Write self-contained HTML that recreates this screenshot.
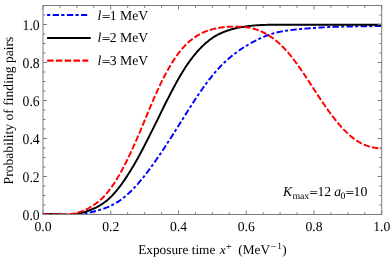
<!DOCTYPE html>
<html><head><meta charset="utf-8"><title>plot</title>
<style>
html,body{margin:0;padding:0;background:#fff;}
svg{display:block;}
svg{font-family:"Liberation Serif",serif;font-size:13.7px;}
text{fill:#000;text-rendering:geometricPrecision;}
.i{font-style:italic;}
.s{font-size:9.8px;}
.t{filter:grayscale(1);}
.e{font-size:11.5px;stroke:#000;stroke-width:0.22px;}
</style></head><body>
<svg width="390" height="258" viewBox="0 0 390 258">
<rect x="0" y="0" width="390" height="258" fill="#fff"/>
<clipPath id="c"><rect x="43.0" y="5.5" width="338.7" height="209.0"/></clipPath>
<g fill="none" stroke-width="1.95" stroke-linejoin="round" clip-path="url(#c)">
<path d="M43.0 214.51 L44.0 214.41 L45.0 214.33 L46.0 214.26 L47.0 214.21 L48.0 214.17 L49.0 214.14 L50.0 214.13 L51.0 214.12 L52.0 214.13 L53.0 214.14 L54.0 214.16 L55.0 214.19 L56.0 214.22 L57.0 214.25 L58.0 214.30 L59.0 214.34 L60.0 214.38 L61.0 214.43 L62.0 214.47 L63.0 214.52 L64.0 214.56 L65.0 214.60 L66.0 214.60 L67.0 214.60 L68.0 214.60 L69.0 214.60 L70.0 214.60 L71.0 214.60 L72.0 214.60 L73.0 214.60 L74.0 214.60 L75.0 214.60 L76.0 214.54 L76.9 214.46 L77.9 214.38 L78.9 214.28 L79.9 214.17 L80.9 214.04 L81.9 213.91 L82.9 213.76 L83.9 213.60 L84.9 213.43 L85.9 213.25 L86.9 213.06 L87.9 212.87 L88.9 212.66 L89.9 212.44 L90.9 212.22 L91.9 211.99 L92.9 211.75 L93.9 211.50 L94.9 211.25 L95.9 210.99 L96.9 210.72 L97.9 210.44 L98.9 210.16 L99.9 209.86 L100.9 209.55 L101.9 209.24 L102.9 208.91 L103.9 208.56 L104.9 208.20 L105.9 207.83 L106.9 207.44 L107.9 207.03 L108.9 206.61 L109.9 206.16 L110.9 205.70 L111.9 205.22 L112.9 204.71 L113.9 204.18 L114.9 203.63 L115.9 203.06 L116.9 202.46 L117.9 201.83 L118.9 201.18 L119.9 200.50 L120.9 199.79 L121.9 199.05 L122.9 198.29 L123.9 197.49 L124.9 196.67 L125.9 195.83 L126.9 194.96 L127.9 194.06 L128.9 193.14 L129.9 192.19 L130.9 191.22 L131.9 190.23 L132.9 189.21 L133.9 188.17 L134.9 187.11 L135.9 186.02 L136.9 184.92 L137.9 183.79 L138.9 182.65 L139.9 181.48 L140.9 180.29 L141.9 179.09 L142.9 177.87 L143.9 176.62 L144.8 175.36 L145.8 174.09 L146.8 172.79 L147.8 171.48 L148.8 170.16 L149.8 168.82 L150.8 167.46 L151.8 166.09 L152.8 164.71 L153.8 163.31 L154.8 161.90 L155.8 160.48 L156.8 159.04 L157.8 157.59 L158.8 156.14 L159.8 154.67 L160.8 153.19 L161.8 151.70 L162.8 150.20 L163.8 148.69 L164.8 147.17 L165.8 145.65 L166.8 144.11 L167.8 142.57 L168.8 141.03 L169.8 139.47 L170.8 137.91 L171.8 136.35 L172.8 134.78 L173.8 133.21 L174.8 131.63 L175.8 130.05 L176.8 128.46 L177.8 126.87 L178.8 125.28 L179.8 123.69 L180.8 122.10 L181.8 120.50 L182.8 118.91 L183.8 117.32 L184.8 115.72 L185.8 114.14 L186.8 112.55 L187.8 110.97 L188.8 109.39 L189.8 107.82 L190.8 106.26 L191.8 104.70 L192.8 103.15 L193.8 101.62 L194.8 100.09 L195.8 98.57 L196.8 97.06 L197.8 95.57 L198.8 94.08 L199.8 92.61 L200.8 91.16 L201.8 89.72 L202.8 88.30 L203.8 86.90 L204.8 85.51 L205.8 84.14 L206.8 82.79 L207.8 81.46 L208.8 80.16 L209.8 78.87 L210.8 77.61 L211.8 76.37 L212.7 75.15 L213.7 73.96 L214.7 72.78 L215.7 71.63 L216.7 70.50 L217.7 69.39 L218.7 68.30 L219.7 67.23 L220.7 66.18 L221.7 65.15 L222.7 64.14 L223.7 63.15 L224.7 62.18 L225.7 61.25 L226.7 60.35 L227.7 59.46 L228.7 58.59 L229.7 57.74 L230.7 56.90 L231.7 56.08 L232.7 55.28 L233.7 54.49 L234.7 53.72 L235.7 52.96 L236.7 52.22 L237.7 51.49 L238.7 50.77 L239.7 50.07 L240.7 49.39 L241.7 48.72 L242.7 48.06 L243.7 47.43 L244.7 46.80 L245.7 46.18 L246.7 45.58 L247.7 44.99 L248.7 44.40 L249.7 43.82 L250.7 43.25 L251.7 42.69 L252.7 42.13 L253.7 41.59 L254.7 41.05 L255.7 40.52 L256.7 40.01 L257.7 39.51 L258.7 39.02 L259.7 38.55 L260.7 38.09 L261.7 37.64 L262.7 37.21 L263.7 36.79 L264.7 36.38 L265.7 35.99 L266.7 35.61 L267.7 35.24 L268.7 34.88 L269.7 34.53 L270.7 34.20 L271.7 33.88 L272.7 33.57 L273.7 33.27 L274.7 32.98 L275.7 32.73 L276.7 32.49 L277.7 32.26 L278.7 32.05 L279.7 31.84 L280.6 31.65 L281.6 31.46 L282.6 31.28 L283.6 31.11 L284.6 30.94 L285.6 30.79 L286.6 30.64 L287.6 30.49 L288.6 30.36 L289.6 30.22 L290.6 30.10 L291.6 29.98 L292.6 29.86 L293.6 29.75 L294.6 29.64 L295.6 29.54 L296.6 29.43 L297.6 29.33 L298.6 29.24 L299.6 29.14 L300.6 29.05 L301.6 28.96 L302.6 28.87 L303.6 28.78 L304.6 28.70 L305.6 28.61 L306.6 28.53 L307.6 28.44 L308.6 28.36 L309.6 28.28 L310.6 28.21 L311.6 28.13 L312.6 28.06 L313.6 27.98 L314.6 27.91 L315.6 27.84 L316.6 27.78 L317.6 27.71 L318.6 27.65 L319.6 27.58 L320.6 27.52 L321.6 27.46 L322.6 27.40 L323.6 27.35 L324.6 27.29 L325.6 27.24 L326.6 27.19 L327.6 27.14 L328.6 27.09 L329.6 27.05 L330.6 27.00 L331.6 26.96 L332.6 26.92 L333.6 26.88 L334.6 26.84 L335.6 26.81 L336.6 26.77 L337.6 26.74 L338.6 26.71 L339.6 26.68 L340.6 26.65 L341.6 26.63 L342.6 26.61 L343.6 26.58 L344.6 26.56 L345.6 26.55 L346.6 26.53 L347.6 26.51 L348.5 26.50 L349.5 26.48 L350.5 26.47 L351.5 26.45 L352.5 26.44 L353.5 26.43 L354.5 26.42 L355.5 26.41 L356.5 26.40 L357.5 26.39 L358.5 26.37 L359.5 26.36 L360.5 26.35 L361.5 26.34 L362.5 26.33 L363.5 26.32 L364.5 26.30 L365.5 26.29 L366.5 26.28 L367.5 26.26 L368.5 26.24 L369.5 26.23 L370.5 26.21 L371.5 26.19 L372.5 26.17 L373.5 26.14 L374.5 26.12 L375.5 26.09 L376.5 26.06 L377.5 26.03 L378.5 26.00 L379.5 25.96 L380.5 25.93 L381.5 25.89" stroke="#0000ff" stroke-dasharray="3 2.45 6.3 2.32" stroke-dashoffset="0.7"/>
<path d="M43.0 214.46 L44.0 214.32 L45.0 214.21 L46.0 214.12 L47.0 214.06 L48.0 214.01 L49.0 213.98 L50.0 213.97 L51.0 213.98 L52.0 214.00 L53.0 214.03 L54.0 214.07 L55.0 214.12 L56.0 214.17 L57.0 214.23 L58.0 214.29 L59.0 214.36 L60.0 214.42 L61.0 214.48 L62.0 214.54 L63.0 214.59 L64.0 214.60 L65.0 214.60 L66.0 214.60 L67.0 214.60 L68.0 214.60 L69.0 214.60 L70.0 214.60 L71.0 214.59 L72.0 214.51 L73.0 214.42 L74.0 214.31 L75.0 214.17 L76.0 214.02 L76.9 213.86 L77.9 213.67 L78.9 213.47 L79.9 213.25 L80.9 213.01 L81.9 212.76 L82.9 212.49 L83.9 212.20 L84.9 211.90 L85.9 211.58 L86.9 211.25 L87.9 210.90 L88.9 210.54 L89.9 210.16 L90.9 209.77 L91.9 209.36 L92.9 208.94 L93.9 208.50 L94.9 208.04 L95.9 207.56 L96.9 207.05 L97.9 206.52 L98.9 205.97 L99.9 205.39 L100.9 204.78 L101.9 204.15 L102.9 203.48 L103.9 202.78 L104.9 202.04 L105.9 201.27 L106.9 200.47 L107.9 199.63 L108.9 198.74 L109.9 197.82 L110.9 196.86 L111.9 195.85 L112.9 194.80 L113.9 193.72 L114.9 192.59 L115.9 191.43 L116.9 190.23 L117.9 188.99 L118.9 187.72 L119.9 186.41 L120.9 185.07 L121.9 183.70 L122.9 182.29 L123.9 180.86 L124.9 179.39 L125.9 177.89 L126.9 176.37 L127.9 174.81 L128.9 173.23 L129.9 171.62 L130.9 169.99 L131.9 168.33 L132.9 166.65 L133.9 164.94 L134.9 163.22 L135.9 161.47 L136.9 159.70 L137.9 157.91 L138.9 156.10 L139.9 154.27 L140.9 152.43 L141.9 150.57 L142.9 148.69 L143.9 146.80 L144.8 144.89 L145.8 142.97 L146.8 141.03 L147.8 139.08 L148.8 137.12 L149.8 135.15 L150.8 133.17 L151.8 131.17 L152.8 129.17 L153.8 127.16 L154.8 125.15 L155.8 123.12 L156.8 121.09 L157.8 119.06 L158.8 117.02 L159.8 114.97 L160.8 112.92 L161.8 110.87 L162.8 108.82 L163.8 106.78 L164.8 104.73 L165.8 102.75 L166.8 100.78 L167.8 98.82 L168.8 96.87 L169.8 94.93 L170.8 93.00 L171.8 91.09 L172.8 89.19 L173.8 87.31 L174.8 85.45 L175.8 83.62 L176.8 81.80 L177.8 80.01 L178.8 78.24 L179.8 76.51 L180.8 74.80 L181.8 73.13 L182.8 71.50 L183.8 69.90 L184.8 68.34 L185.8 66.81 L186.8 65.32 L187.8 63.86 L188.8 62.43 L189.8 61.02 L190.8 59.65 L191.8 58.31 L192.8 57.01 L193.8 55.74 L194.8 54.51 L195.8 53.31 L196.8 52.14 L197.8 51.01 L198.8 49.92 L199.8 48.85 L200.8 47.82 L201.8 46.81 L202.8 45.83 L203.8 44.88 L204.8 43.96 L205.8 43.07 L206.8 42.21 L207.8 41.38 L208.8 40.58 L209.8 39.82 L210.8 39.09 L211.8 38.39 L212.7 37.71 L213.7 37.07 L214.7 36.45 L215.7 35.86 L216.7 35.30 L217.7 34.76 L218.7 34.24 L219.7 33.75 L220.7 33.28 L221.7 32.83 L222.7 32.40 L223.7 31.99 L224.7 31.60 L225.7 31.23 L226.7 30.88 L227.7 30.54 L228.7 30.21 L229.7 29.90 L230.7 29.60 L231.7 29.31 L232.7 29.04 L233.7 28.78 L234.7 28.53 L235.7 28.29 L236.7 28.06 L237.7 27.85 L238.7 27.64 L239.7 27.45 L240.7 27.26 L241.7 27.08 L242.7 26.92 L243.7 26.76 L244.7 26.61 L245.7 26.46 L246.7 26.32 L247.7 26.19 L248.7 26.07 L249.7 25.96 L250.7 25.85 L251.7 25.74 L252.7 25.64 L253.7 25.55 L254.7 25.47 L255.7 25.39 L256.7 25.31 L257.7 25.24 L258.7 25.17 L259.7 25.11 L260.7 25.06 L261.7 25.02 L262.7 24.98 L263.7 24.94 L264.7 24.91 L265.7 24.87 L266.7 24.85 L267.7 24.82 L268.7 24.80 L269.7 24.77 L270.7 24.75 L271.7 24.74 L272.7 24.72 L273.7 24.71 L274.7 24.70 L275.7 24.69 L276.7 24.68 L277.7 24.67 L278.7 24.67 L279.7 24.67 L280.6 24.66 L281.6 24.66 L282.6 24.66 L283.6 24.66 L284.6 24.67 L285.6 24.67 L286.6 24.68 L287.6 24.68 L288.6 24.69 L289.6 24.69 L290.6 24.70 L291.6 24.71 L292.6 24.71 L293.6 24.72 L294.6 24.73 L295.6 24.74 L296.6 24.74 L297.6 24.75 L298.6 24.76 L299.6 24.77 L300.6 24.77 L301.6 24.78 L302.6 24.78 L303.6 24.79 L304.6 24.80 L305.6 24.80 L306.6 24.80 L307.6 24.81 L308.6 24.81 L309.6 24.81 L310.6 24.82 L311.6 24.82 L312.6 24.82 L313.6 24.82 L314.6 24.82 L315.6 24.83 L316.6 24.83 L317.6 24.83 L318.6 24.83 L319.6 24.83 L320.6 24.83 L321.6 24.83 L322.6 24.83 L323.6 24.83 L324.6 24.83 L325.6 24.82 L326.6 24.82 L327.6 24.82 L328.6 24.82 L329.6 24.82 L330.6 24.82 L331.6 24.82 L332.6 24.81 L333.6 24.81 L334.6 24.81 L335.6 24.81 L336.6 24.80 L337.6 24.80 L338.6 24.80 L339.6 24.80 L340.6 24.79 L341.6 24.79 L342.6 24.79 L343.6 24.79 L344.6 24.78 L345.6 24.78 L346.6 24.78 L347.6 24.78 L348.5 24.78 L349.5 24.77 L350.5 24.77 L351.5 24.77 L352.5 24.77 L353.5 24.77 L354.5 24.76 L355.5 24.76 L356.5 24.76 L357.5 24.76 L358.5 24.76 L359.5 24.76 L360.5 24.76 L361.5 24.76 L362.5 24.76 L363.5 24.76 L364.5 24.76 L365.5 24.76 L366.5 24.76 L367.5 24.76 L368.5 24.76 L369.5 24.76 L370.5 24.77 L371.5 24.77 L372.5 24.77 L373.5 24.77 L374.5 24.78 L375.5 24.78 L376.5 24.78 L377.5 24.79 L378.5 24.79 L379.5 24.80 L380.5 24.80 L381.5 24.81" stroke="#000"/>
<path d="M43.0 214.47 L44.0 214.38 L45.0 214.31 L46.0 214.26 L47.0 214.22 L48.0 214.20 L49.0 214.19 L50.0 214.18 L51.0 214.19 L52.0 214.21 L53.0 214.23 L54.0 214.25 L55.0 214.28 L56.0 214.32 L57.0 214.35 L58.0 214.38 L59.0 214.40 L60.0 214.43 L61.0 214.44 L62.0 214.45 L63.0 214.45 L64.0 214.45 L65.0 214.43 L66.0 214.39 L67.0 214.34 L68.0 214.28 L69.0 214.20 L70.0 214.10 L71.0 213.97 L72.0 213.83 L73.0 213.67 L74.0 213.48 L75.0 213.28 L76.0 213.05 L76.9 212.80 L77.9 212.53 L78.9 212.23 L79.9 211.92 L80.9 211.58 L81.9 211.21 L82.9 210.83 L83.9 210.42 L84.9 209.98 L85.9 209.53 L86.9 209.04 L87.9 208.54 L88.9 208.01 L89.9 207.45 L90.9 206.87 L91.9 206.26 L92.9 205.63 L93.9 204.96 L94.9 204.27 L95.9 203.55 L96.9 202.79 L97.9 202.00 L98.9 201.17 L99.9 200.31 L100.9 199.41 L101.9 198.47 L102.9 197.49 L103.9 196.47 L104.9 195.40 L105.9 194.30 L106.9 193.15 L107.9 191.95 L108.9 190.70 L109.9 189.41 L110.9 188.06 L111.9 186.67 L112.9 185.23 L113.9 183.74 L114.9 182.21 L115.9 180.63 L116.9 179.00 L117.9 177.33 L118.9 175.62 L119.9 173.87 L120.9 172.08 L121.9 170.25 L122.9 168.38 L123.9 166.48 L124.9 164.54 L125.9 162.56 L126.9 160.55 L127.9 158.50 L128.9 156.43 L129.9 154.32 L130.9 152.18 L131.9 150.02 L132.9 147.82 L133.9 145.60 L134.9 143.35 L135.9 141.08 L136.9 138.79 L137.9 136.47 L138.9 134.14 L139.9 131.79 L140.9 129.43 L141.9 127.06 L142.9 124.68 L143.9 122.30 L144.8 119.91 L145.8 117.52 L146.8 115.14 L147.8 112.76 L148.8 110.39 L149.8 108.03 L150.8 105.68 L151.8 103.34 L152.8 101.02 L153.8 98.73 L154.8 96.45 L155.8 94.20 L156.8 91.98 L157.8 89.79 L158.8 87.63 L159.8 85.50 L160.8 83.43 L161.8 81.40 L162.8 79.40 L163.8 77.45 L164.8 75.53 L165.8 73.66 L166.8 71.82 L167.8 70.02 L168.8 68.27 L169.8 66.55 L170.8 64.87 L171.8 63.24 L172.8 61.64 L173.8 60.09 L174.8 58.58 L175.8 57.11 L176.8 55.68 L177.8 54.29 L178.8 52.94 L179.8 51.64 L180.8 50.38 L181.8 49.17 L182.8 48.00 L183.8 46.87 L184.8 45.79 L185.8 44.76 L186.8 43.77 L187.8 42.82 L188.8 41.91 L189.8 41.04 L190.8 40.21 L191.8 39.41 L192.8 38.65 L193.8 37.92 L194.8 37.23 L195.8 36.56 L196.8 35.93 L197.8 35.32 L198.8 34.74 L199.8 34.18 L200.8 33.65 L201.8 33.15 L202.8 32.67 L203.8 32.22 L204.8 31.80 L205.8 31.39 L206.8 31.01 L207.8 30.66 L208.8 30.32 L209.8 30.00 L210.8 29.70 L211.8 29.42 L212.7 29.16 L213.7 28.92 L214.7 28.69 L215.7 28.47 L216.7 28.27 L217.7 28.08 L218.7 27.90 L219.7 27.74 L220.7 27.58 L221.7 27.44 L222.7 27.31 L223.7 27.19 L224.7 27.08 L225.7 26.98 L226.7 26.90 L227.7 26.82 L228.7 26.76 L229.7 26.71 L230.7 26.67 L231.7 26.64 L232.7 26.62 L233.7 26.61 L234.7 26.61 L235.7 26.61 L236.7 26.62 L237.7 26.64 L238.7 26.67 L239.7 26.70 L240.7 26.75 L241.7 26.81 L242.7 26.88 L243.7 26.96 L244.7 27.06 L245.7 27.16 L246.7 27.29 L247.7 27.42 L248.7 27.57 L249.7 27.74 L250.7 27.95 L251.7 28.19 L252.7 28.44 L253.7 28.71 L254.7 29.01 L255.7 29.32 L256.7 29.65 L257.7 30.01 L258.7 30.38 L259.7 30.78 L260.7 31.20 L261.7 31.64 L262.7 32.11 L263.7 32.60 L264.7 33.12 L265.7 33.66 L266.7 34.22 L267.7 34.81 L268.7 35.42 L269.7 36.06 L270.7 36.72 L271.7 37.41 L272.7 38.12 L273.7 38.86 L274.7 39.63 L275.7 40.42 L276.7 41.24 L277.7 42.08 L278.7 42.95 L279.7 43.85 L280.6 44.78 L281.6 45.73 L282.6 46.72 L283.6 47.73 L284.6 48.76 L285.6 49.83 L286.6 50.93 L287.6 52.05 L288.6 53.20 L289.6 54.39 L290.6 55.60 L291.6 56.84 L292.6 58.11 L293.6 59.40 L294.6 60.72 L295.6 62.06 L296.6 63.43 L297.6 64.81 L298.6 66.22 L299.6 67.64 L300.6 69.08 L301.6 70.54 L302.6 72.01 L303.6 73.49 L304.6 74.98 L305.6 76.49 L306.6 78.00 L307.6 79.52 L308.6 81.05 L309.6 82.58 L310.6 84.12 L311.6 85.65 L312.6 87.19 L313.6 88.73 L314.6 90.27 L315.6 91.80 L316.6 93.33 L317.6 94.85 L318.6 96.37 L319.6 97.88 L320.6 99.38 L321.6 100.86 L322.6 102.34 L323.6 103.80 L324.6 105.26 L325.6 106.69 L326.6 108.12 L327.6 109.52 L328.6 110.92 L329.6 112.29 L330.6 113.65 L331.6 114.99 L332.6 116.31 L333.6 117.61 L334.6 118.89 L335.6 120.15 L336.6 121.39 L337.6 122.61 L338.6 123.80 L339.6 124.97 L340.6 126.11 L341.6 127.23 L342.6 128.32 L343.6 129.39 L344.6 130.42 L345.6 131.43 L346.6 132.41 L347.6 133.36 L348.5 134.28 L349.5 135.16 L350.5 136.02 L351.5 136.84 L352.5 137.63 L353.5 138.39 L354.5 139.12 L355.5 139.81 L356.5 140.48 L357.5 141.11 L358.5 141.72 L359.5 142.30 L360.5 142.85 L361.5 143.37 L362.5 143.86 L363.5 144.32 L364.5 144.76 L365.5 145.17 L366.5 145.56 L367.5 145.91 L368.5 146.25 L369.5 146.56 L370.5 146.84 L371.5 147.10 L372.5 147.33 L373.5 147.54 L374.5 147.73 L375.5 147.90 L376.5 148.04 L377.5 148.16 L378.5 148.26 L379.5 148.34 L380.5 148.40 L381.5 148.44" stroke="#ff0000" stroke-dasharray="6.4 2.23" stroke-dashoffset="-0.34"/>
</g>
<path d="M43.00 214.5 v-4.0 M43.00 5.5 v4.0 M59.94 214.5 v-2.4 M59.94 5.5 v2.4 M76.87 214.5 v-2.4 M76.87 5.5 v2.4 M93.81 214.5 v-2.4 M93.81 5.5 v2.4 M110.74 214.5 v-4.0 M110.74 5.5 v4.0 M127.67 214.5 v-2.4 M127.67 5.5 v2.4 M144.61 214.5 v-2.4 M144.61 5.5 v2.4 M161.55 214.5 v-2.4 M161.55 5.5 v2.4 M178.48 214.5 v-4.0 M178.48 5.5 v4.0 M195.41 214.5 v-2.4 M195.41 5.5 v2.4 M212.35 214.5 v-2.4 M212.35 5.5 v2.4 M229.28 214.5 v-2.4 M229.28 5.5 v2.4 M246.22 214.5 v-4.0 M246.22 5.5 v4.0 M263.15 214.5 v-2.4 M263.15 5.5 v2.4 M280.09 214.5 v-2.4 M280.09 5.5 v2.4 M297.02 214.5 v-2.4 M297.02 5.5 v2.4 M313.96 214.5 v-4.0 M313.96 5.5 v4.0 M330.90 214.5 v-2.4 M330.90 5.5 v2.4 M347.83 214.5 v-2.4 M347.83 5.5 v2.4 M364.76 214.5 v-2.4 M364.76 5.5 v2.4 M381.70 214.5 v-4.0 M381.70 5.5 v4.0 M43.0 214.50 h4.0 M381.7 214.50 h-4.0 M43.0 205.00 h2.4 M381.7 205.00 h-2.4 M43.0 195.50 h2.4 M381.7 195.50 h-2.4 M43.0 186.00 h2.4 M381.7 186.00 h-2.4 M43.0 176.50 h4.0 M381.7 176.50 h-4.0 M43.0 167.00 h2.4 M381.7 167.00 h-2.4 M43.0 157.50 h2.4 M381.7 157.50 h-2.4 M43.0 148.00 h2.4 M381.7 148.00 h-2.4 M43.0 138.50 h4.0 M381.7 138.50 h-4.0 M43.0 129.00 h2.4 M381.7 129.00 h-2.4 M43.0 119.50 h2.4 M381.7 119.50 h-2.4 M43.0 110.00 h2.4 M381.7 110.00 h-2.4 M43.0 100.50 h4.0 M381.7 100.50 h-4.0 M43.0 91.00 h2.4 M381.7 91.00 h-2.4 M43.0 81.50 h2.4 M381.7 81.50 h-2.4 M43.0 72.00 h2.4 M381.7 72.00 h-2.4 M43.0 62.50 h4.0 M381.7 62.50 h-4.0 M43.0 53.00 h2.4 M381.7 53.00 h-2.4 M43.0 43.50 h2.4 M381.7 43.50 h-2.4 M43.0 34.00 h2.4 M381.7 34.00 h-2.4 M43.0 24.50 h4.0 M381.7 24.50 h-4.0 M43.0 15.00 h2.4 M381.7 15.00 h-2.4" fill="none" stroke="#7c7c7c" stroke-width="1"/>
<rect x="43.0" y="5.5" width="338.7" height="209.0" fill="none" stroke="#7c7c7c" stroke-width="1"/>
<g fill="none" stroke-width="2.05">
<line x1="47.1" y1="15" x2="87.2" y2="15" stroke="#0000ff" stroke-dasharray="3.1 2.5 6.3 2.3"/>
<line x1="47.1" y1="37.9" x2="90.7" y2="37.9" stroke="#000"/>
<line x1="47.1" y1="60.6" x2="88.3" y2="60.6" stroke="#ff0000" stroke-dasharray="6.5 2.3"/>
</g>
<g class="t">
<text x="97.6" y="19.6" class="i">l</text><text class="e" transform="translate(101.9 20.25) rotate(0.04) scale(1.27 1)">=</text><text x="109.8" y="19.6">1 MeV</text>
<text x="97.6" y="42.2" class="i">l</text><text class="e" transform="translate(101.9 42.25) rotate(0.04) scale(1.27 1)">=</text><text x="109.8" y="42.2">2 MeV</text>
<text x="97.6" y="64.9" class="i">l</text><text class="e" transform="translate(101.9 65.25) rotate(0.04) scale(1.27 1)">=</text><text x="109.8" y="64.9">3 MeV</text>
<text x="43.00" y="230.8" text-anchor="middle">0.0</text><text x="110.74" y="230.8" text-anchor="middle">0.2</text><text x="178.48" y="230.8" text-anchor="middle">0.4</text><text x="246.22" y="230.8" text-anchor="middle">0.6</text><text x="313.96" y="230.8" text-anchor="middle">0.8</text><text x="381.70" y="230.8" text-anchor="middle">1.0</text>
<text transform="translate(39.7 219.70) scale(1 1.08)" text-anchor="end">0.0</text><text transform="translate(39.7 181.70) scale(1 1.08)" text-anchor="end">0.2</text><text transform="translate(39.7 143.70) scale(1 1.08)" text-anchor="end">0.4</text><text transform="translate(39.7 105.70) scale(1 1.08)" text-anchor="end">0.6</text><text transform="translate(39.7 67.70) scale(1 1.08)" text-anchor="end">0.8</text><text transform="translate(39.7 29.70) scale(1 1.08)" text-anchor="end">1.0</text>
<g style="font-size:13.3px">
<text x="138.2" y="253.8">Exposure time</text>
<text x="219.7" y="253.8" class="i">x</text>
<text x="226.1" y="250" style="font-size:10.2px">+</text>
<text x="238.3" y="253.8">(MeV</text>
<text x="270.6" y="250" style="font-size:10.2px">−</text>
<text x="277.2" y="248.8" style="font-size:9.3px">1</text>
<text x="282.3" y="253.8">)</text>
</g>
<text transform="translate(13.1,110.5) rotate(-90)" text-anchor="middle" style="font-size:13.62px">Probability of finding pairs</text>
<text x="283" y="196" class="i">K</text><text x="292.4" y="198.6" class="s">max</text><text class="e" transform="translate(309.4 196.2) rotate(0.04) scale(1.27 1)">=</text><text x="317.4" y="196">12</text><text x="334.2" y="196" class="i">a</text><text x="340.6" y="198.6" class="s">0</text><text class="e" transform="translate(345.7 196.2) rotate(0.04) scale(1.27 1)">=</text><text x="353.6" y="196">10</text>
</g>
</svg>
</body></html>
